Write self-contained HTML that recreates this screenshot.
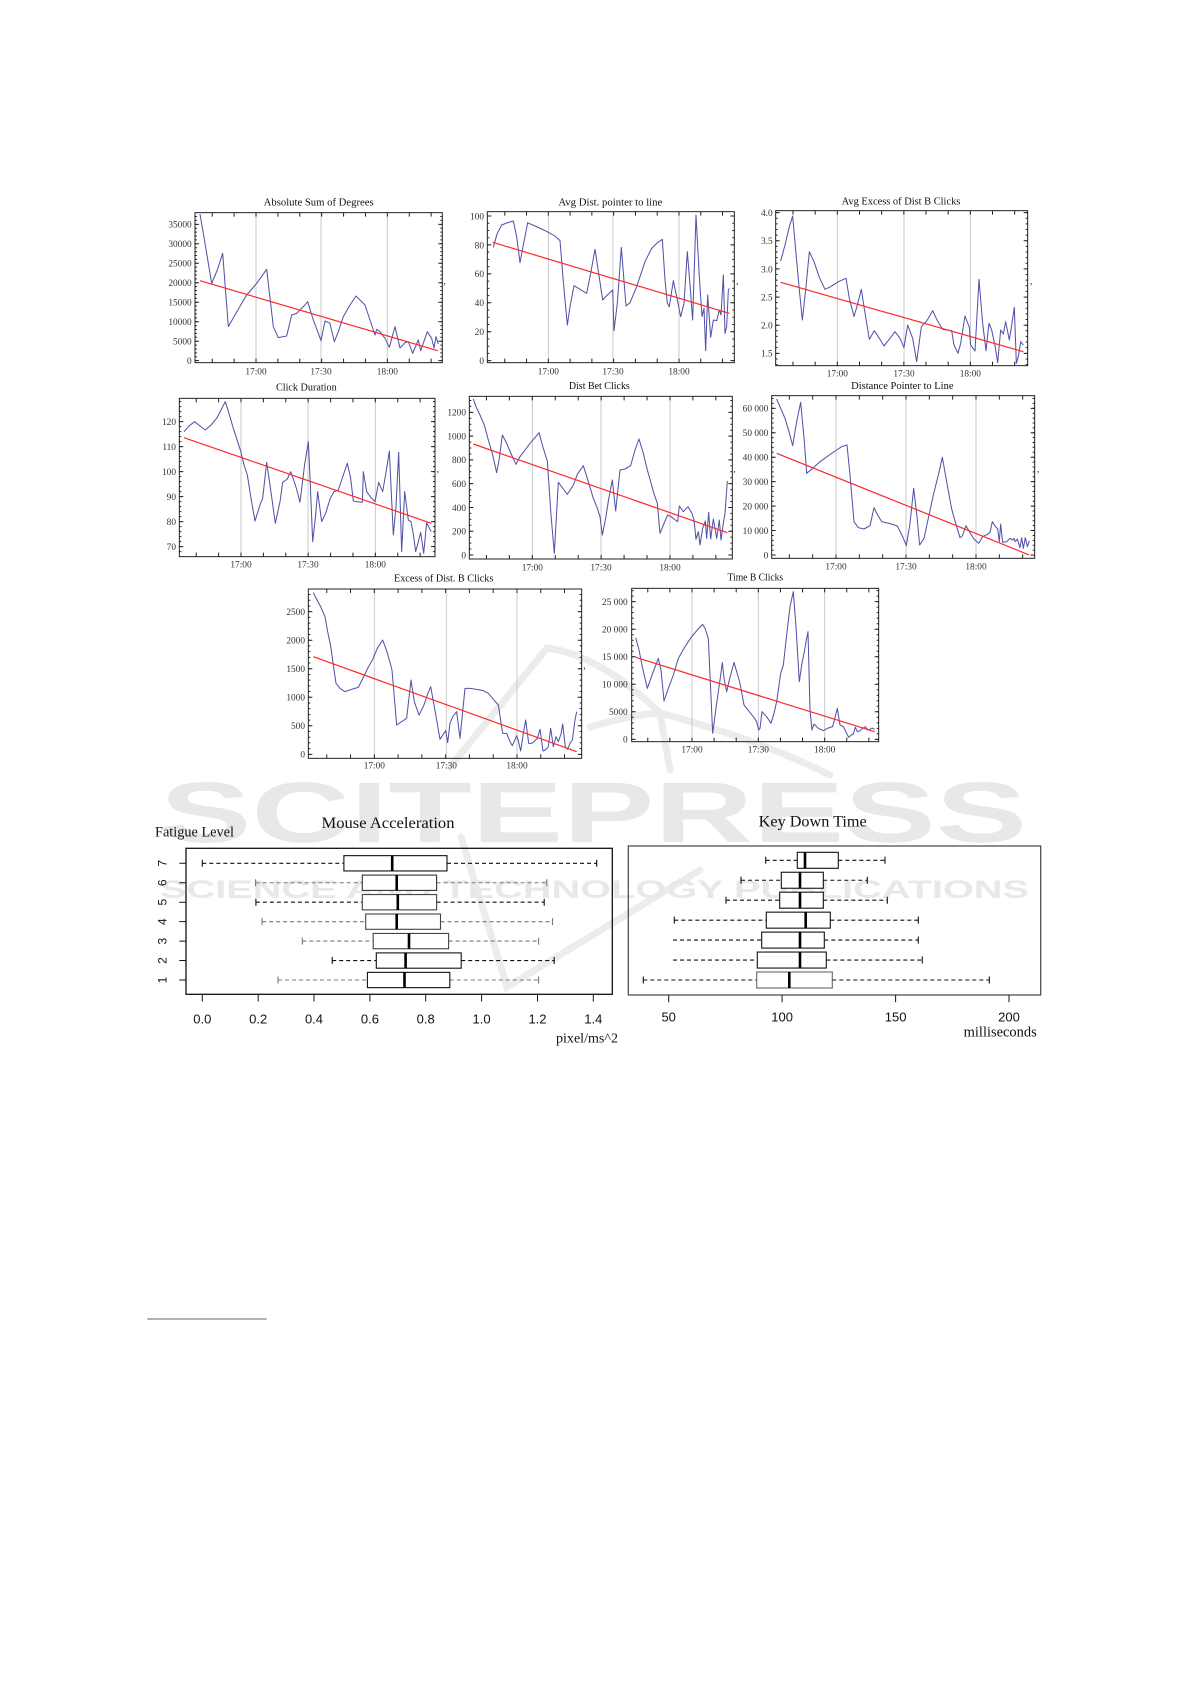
<!DOCTYPE html>
<html>
<head>
<meta charset="utf-8">
<style>
html,body{margin:0;padding:0;background:#fff;overflow:hidden;}
svg{display:block;}
.s{font-family:"Liberation Serif","DejaVu Serif",serif;}
.a{font-family:"Liberation Sans","DejaVu Sans",sans-serif;}
.bl{fill:none;stroke:#5252a8;stroke-width:3.1;stroke-linejoin:round;}
</style>
</head>
<body>
<svg width="1191" height="1684" viewBox="0 0 1191 1684" xmlns="http://www.w3.org/2000/svg">
<rect width="1191" height="1684" fill="#fff"/>

<!-- watermark -->
<g fill="none" stroke="#ececec" stroke-width="7" stroke-linecap="round">
<path d="M450,767 L547,648 Q600,655 660,713 Q760,740 830,775"/>
<path d="M590,727 Q630,715 660,713 L670,770"/>
<path d="M461,837 L507,987 L700,870"/>
</g>
<text class="a" x="160" y="842" font-size="86" font-weight="bold" fill="#e8e8e8" textLength="867" lengthAdjust="spacingAndGlyphs">SCITEPRESS</text>
<text class="a" x="160" y="898" font-size="25" font-weight="bold" fill="#e8e8e8" textLength="869" lengthAdjust="spacingAndGlyphs">SCIENCE AND TECHNOLOGY PUBLICATIONS</text>

<!-- ============ Chart 1 ============ -->
<g transform="translate(140,190) scale(0.3333333)">
<path d="M348,68V518M543,68V518M742,68V518" stroke="#c8c8c8" stroke-width="3" fill="none"/>
<rect x="165" y="68" width="742" height="450" fill="none" stroke="#222" stroke-width="3"/>
<g stroke="#222" fill="none">
<line x1="171" y1="513.5" x2="171" y2="70" stroke-width="12" stroke-dasharray="3 55.43"/>
<line x1="168" y1="513.5" x2="168" y2="70" stroke-width="6" stroke-dasharray="3 8.686"/>
<line x1="901" y1="513.5" x2="901" y2="70" stroke-width="12" stroke-dasharray="3 55.43"/>
<line x1="904" y1="513.5" x2="904" y2="70" stroke-width="6" stroke-dasharray="3 8.686"/>
<line x1="215.2" y1="512" x2="905" y2="512" stroke-width="12" stroke-dasharray="3 62.67"/>
<line x1="215.2" y1="74" x2="905" y2="74" stroke-width="12" stroke-dasharray="3 62.67"/>
</g>
<polyline class="bl" points="180,72 195,160 215,280 232,240 248,190 265,410 285,375 305,340 320,315 350,280 380,238 400,410 415,443 440,438 455,375 470,370 490,350 503,335 520,390 535,430 543,452 555,393 570,400 583,455 595,425 610,380 630,345 648,318 660,330 675,345 690,390 705,435 710,418 720,425 735,445 748,472 765,410 780,474 795,458 805,455 818,490 835,450 842,482 862,425 875,445 882,474 888,440 895,462"/>
<line x1="180" y1="272" x2="893" y2="482" stroke="#ff2828" stroke-width="3.6"/>
<g class="s" font-size="28" fill="#333" text-anchor="end">
<text x="155" y="522">0</text><text x="155" y="463.6">5000</text><text x="155" y="405.1">10000</text><text x="155" y="346.7">15000</text><text x="155" y="288.3">20000</text><text x="155" y="229.9">25000</text><text x="155" y="171.4">30000</text><text x="155" y="113">35000</text>
</g>
<g class="s" font-size="28" fill="#333" text-anchor="middle">
<text x="348" y="553">17:00</text><text x="543" y="553">17:30</text><text x="742" y="553">18:00</text>
</g>
<text class="s" x="536" y="47" font-size="30" fill="#111" text-anchor="middle" textLength="330" lengthAdjust="spacingAndGlyphs">Absolute Sum of Degrees</text>
<text class="s" x="910" y="282" font-size="28" fill="#222">,</text>
</g>

<!-- ============ Chart 2 ============ -->
<g transform="translate(460,190) scale(0.3333333)">
<path d="M265,65V518M459,65V518M657,65V518" stroke="#c8c8c8" stroke-width="3" fill="none"/>
<rect x="82" y="65" width="741" height="453" fill="none" stroke="#222" stroke-width="3"/>
<g stroke="#222" fill="none">
<line x1="88" y1="513.5" x2="88" y2="67" stroke-width="12" stroke-dasharray="3 83.8"/>
<line x1="85" y1="513.5" x2="85" y2="67" stroke-width="6" stroke-dasharray="3 18.7"/>
<line x1="817" y1="513.5" x2="817" y2="67" stroke-width="12" stroke-dasharray="3 83.8"/>
<line x1="820" y1="513.5" x2="820" y2="67" stroke-width="6" stroke-dasharray="3 18.7"/>
<line x1="132.8" y1="512" x2="821" y2="512" stroke-width="12" stroke-dasharray="3 62.33"/>
<line x1="132.8" y1="71" x2="821" y2="71" stroke-width="12" stroke-dasharray="3 62.33"/>
</g>
<polyline class="bl" points="100,172 103,160 112,130 125,105 143,98 160,93 170,140 180,218 190,165 203,98 225,108 245,117 265,127 283,137 300,152 310,275 322,405 330,350 342,287 360,298 380,310 392,250 405,178 416,250 428,330 442,315 458,300 462,422 472,340 484,172 498,348 510,338 530,290 555,215 575,175 590,160 607,148 615,270 622,340 628,350 640,272 650,320 662,380 672,340 682,185 690,285 698,390 708,75 718,260 726,380 732,355 737,482 743,315 752,442 760,390 770,392 778,360 783,375 790,255 795,430 800,410 805,300 808,295"/>
<line x1="98" y1="157" x2="808" y2="370" stroke="#ff2828" stroke-width="3.6"/>
<g class="s" font-size="28" fill="#333" text-anchor="end">
<text x="72" y="522">0</text><text x="72" y="435.2">20</text><text x="72" y="348.4">40</text><text x="72" y="261.6">60</text><text x="72" y="174.8">80</text><text x="72" y="88">100</text>
</g>
<g class="s" font-size="28" fill="#333" text-anchor="middle">
<text x="265" y="553">17:00</text><text x="459" y="553">17:30</text><text x="657" y="553">18:00</text>
</g>
<text class="s" x="451" y="47" font-size="30" fill="#111" text-anchor="middle" textLength="312" lengthAdjust="spacingAndGlyphs">Avg Dist. pointer to line</text>
<text class="s" x="828" y="282" font-size="28" fill="#222">,</text>
</g>

<!-- ============ Chart 3 ============ -->
<g transform="translate(760,190) scale(0.3333333)">
<path d="M232,62V527M432,62V527M631,62V527" stroke="#c8c8c8" stroke-width="3" fill="none"/>
<rect x="47" y="62" width="756" height="465" fill="none" stroke="#222" stroke-width="3"/>
<g stroke="#222" fill="none">
<line x1="53" y1="491.5" x2="53" y2="64" stroke-width="12" stroke-dasharray="3 81.4"/>
<line x1="50" y1="525.2" x2="50" y2="64" stroke-width="6" stroke-dasharray="3 13.88"/>
<line x1="797" y1="491.5" x2="797" y2="64" stroke-width="12" stroke-dasharray="3 81.4"/>
<line x1="800" y1="525.2" x2="800" y2="64" stroke-width="6" stroke-dasharray="3 13.88"/>
<line x1="97.5" y1="521" x2="801" y2="521" stroke-width="12" stroke-dasharray="3 63.5"/>
<line x1="97.5" y1="68" x2="801" y2="68" stroke-width="12" stroke-dasharray="3 63.5"/>
</g>
<polyline class="bl" points="62,213 75,165 88,110 98,78 107,180 118,300 127,390 138,290 148,185 162,215 178,262 195,298 212,290 235,275 258,265 268,325 282,380 292,345 304,298 312,350 328,448 343,422 358,445 372,468 390,445 405,425 420,445 432,473 443,405 458,445 470,515 484,410 500,393 518,362 532,392 548,418 560,420 575,422 582,465 594,490 602,460 615,378 628,412 632,465 645,483 657,268 668,400 678,482 687,400 695,420 705,467 713,518 722,420 730,432 737,395 748,450 757,393 763,352 769,520 775,500 782,455 790,465"/>
<line x1="62" y1="277" x2="790" y2="485" stroke="#ff2828" stroke-width="3.6"/>
<g class="s" font-size="28" fill="#333" text-anchor="end">
<text x="38" y="500">1.5</text><text x="38" y="415.6">2.0</text><text x="38" y="331.2">2.5</text><text x="38" y="246.8">3.0</text><text x="38" y="162.4">3.5</text><text x="38" y="78">4.0</text>
</g>
<g class="s" font-size="28" fill="#333" text-anchor="middle">
<text x="232" y="560">17:00</text><text x="432" y="560">17:30</text><text x="631" y="560">18:00</text>
</g>
<text class="s" x="423" y="44" font-size="30" fill="#111" text-anchor="middle" textLength="356" lengthAdjust="spacingAndGlyphs">Avg Excess of Dist B Clicks</text>
<text class="s" x="810" y="282" font-size="28" fill="#222">,</text>
</g>

<!-- ============ Chart 4 ============ -->
<g transform="translate(150,375) scale(0.3333333)">
<path d="M273,70V545M474,70V545M676,70V545" stroke="#c8c8c8" stroke-width="3" fill="none"/>
<rect x="88" y="70" width="767" height="475" fill="none" stroke="#222" stroke-width="3"/>
<g stroke="#222" fill="none">
<line x1="94" y1="516.5" x2="94" y2="72" stroke-width="12" stroke-dasharray="3 72"/>
<line x1="91" y1="531.5" x2="91" y2="72" stroke-width="6" stroke-dasharray="3 12"/>
<line x1="849" y1="516.5" x2="849" y2="72" stroke-width="12" stroke-dasharray="3 72"/>
<line x1="852" y1="531.5" x2="852" y2="72" stroke-width="6" stroke-dasharray="3 12"/>
<line x1="137.2" y1="539" x2="853" y2="539" stroke-width="12" stroke-dasharray="3 64.17"/>
<line x1="137.2" y1="76" x2="853" y2="76" stroke-width="12" stroke-dasharray="3 64.17"/>
</g>
<polyline class="bl" points="102,170 118,152 134,140 150,153 166,165 183,150 200,130 214,103 226,80 236,112 250,160 263,200 272,228 282,270 292,300 303,370 315,438 330,390 338,370 350,262 360,330 376,445 390,380 398,322 412,312 422,290 432,318 440,343 450,382 464,268 475,200 481,330 488,500 496,430 503,350 515,440 528,412 540,372 552,350 565,345 580,300 592,265 602,310 610,378 620,380 637,382 640,290 650,350 665,370 675,380 686,322 698,350 710,280 718,228 730,480 738,395 746,232 755,530 764,350 775,435 783,440 790,478 797,530 805,500 812,472 821,535 830,443 838,460 844,470"/>
<line x1="102" y1="188" x2="844" y2="445" stroke="#ff2828" stroke-width="3.6"/>
<g class="s" font-size="28" fill="#333" text-anchor="end">
<text x="78" y="525">70</text><text x="78" y="450">80</text><text x="78" y="375">90</text><text x="78" y="300">100</text><text x="78" y="225">110</text><text x="78" y="150">120</text>
</g>
<g class="s" font-size="28" fill="#333" text-anchor="middle">
<text x="273" y="578">17:00</text><text x="474" y="578">17:30</text><text x="676" y="578">18:00</text>
</g>
<text class="s" x="469" y="47" font-size="30" fill="#111" text-anchor="middle" textLength="182" lengthAdjust="spacingAndGlyphs">Click Duration</text>
<text class="s" x="860" y="291" font-size="28" fill="#222">,</text>
</g>

<!-- ============ Chart 5 ============ -->
<g transform="translate(440,375) scale(0.3333333)">
<path d="M277,64V552M483,64V552M690,64V552" stroke="#c8c8c8" stroke-width="3" fill="none"/>
<rect x="88" y="64" width="789" height="488" fill="none" stroke="#222" stroke-width="3"/>
<g stroke="#222" fill="none">
<line x1="94" y1="541.5" x2="94" y2="66" stroke-width="12" stroke-dasharray="3 68.33"/>
<line x1="91" y1="541.5" x2="91" y2="66" stroke-width="6" stroke-dasharray="3 14.83"/>
<line x1="871" y1="541.5" x2="871" y2="66" stroke-width="12" stroke-dasharray="3 68.33"/>
<line x1="874" y1="541.5" x2="874" y2="66" stroke-width="6" stroke-dasharray="3 14.83"/>
<line x1="137.8" y1="546" x2="875" y2="546" stroke-width="12" stroke-dasharray="3 65.83"/>
<line x1="137.8" y1="70" x2="875" y2="70" stroke-width="12" stroke-dasharray="3 65.83"/>
</g>
<polyline class="bl" points="100,72 108,95 120,120 133,150 145,195 158,240 170,293 178,250 187,180 200,205 215,240 228,268 240,245 255,225 270,205 283,190 297,173 310,220 322,258 333,420 343,535 355,322 370,342 382,358 400,330 412,298 430,272 445,320 460,370 472,400 480,425 487,480 497,430 505,378 517,315 527,408 540,285 555,282 572,272 585,225 597,192 610,235 622,285 632,320 640,350 652,385 660,475 670,450 683,420 693,425 706,435 713,440 718,393 730,410 744,395 756,415 762,435 768,493 775,470 780,510 788,460 796,438 800,490 806,412 812,492 820,432 826,465 830,490 838,435 843,495 850,445 855,415 862,318"/>
<line x1="100" y1="207" x2="862" y2="473" stroke="#ff2828" stroke-width="3.6"/>
<g class="s" font-size="28" fill="#333" text-anchor="end">
<text x="78" y="550">0</text><text x="78" y="478.7">200</text><text x="78" y="407.3">400</text><text x="78" y="336">600</text><text x="78" y="264.7">800</text><text x="78" y="193.3">1000</text><text x="78" y="122">1200</text>
</g>
<g class="s" font-size="28" fill="#333" text-anchor="middle">
<text x="277" y="586">17:00</text><text x="483" y="586">17:30</text><text x="690" y="586">18:00</text>
</g>
<text class="s" x="478" y="42" font-size="30" fill="#111" text-anchor="middle" textLength="183" lengthAdjust="spacingAndGlyphs">Dist Bet Clicks</text>
<text class="s" x="880" y="291" font-size="28" fill="#222">,</text>
</g>

<!-- ============ Chart 6 ============ -->
<g transform="translate(740,375) scale(0.3333333)">
<path d="M288,62V550M498,62V550M708,62V550" stroke="#c8c8c8" stroke-width="3" fill="none"/>
<rect x="95" y="62" width="789" height="488" fill="none" stroke="#222" stroke-width="3"/>
<g stroke="#222" fill="none">
<line x1="101" y1="541.5" x2="101" y2="64" stroke-width="12" stroke-dasharray="3 70.33"/>
<line x1="98" y1="541.5" x2="98" y2="64" stroke-width="6" stroke-dasharray="3 11.67"/>
<line x1="878" y1="541.5" x2="878" y2="64" stroke-width="12" stroke-dasharray="3 70.33"/>
<line x1="881" y1="541.5" x2="881" y2="64" stroke-width="6" stroke-dasharray="3 11.67"/>
<line x1="146.5" y1="544" x2="882" y2="544" stroke-width="12" stroke-dasharray="3 67"/>
<line x1="146.5" y1="68" x2="882" y2="68" stroke-width="12" stroke-dasharray="3 67"/>
</g>
<polyline class="bl" points="110,72 122,100 135,130 147,170 158,212 170,140 182,82 193,200 200,295 218,280 240,260 265,242 285,228 305,215 321,210 330,300 342,440 355,458 372,462 390,452 402,398 413,420 425,440 450,446 472,453 488,485 499,512 510,445 521,340 531,425 539,510 552,490 566,425 580,360 595,300 607,247 620,320 635,402 645,438 660,488 667,483 678,452 688,470 702,492 716,505 728,485 742,478 750,472 757,440 765,453 773,462 778,500 782,447 788,502 800,500 810,490 818,495 822,490 826,500 832,492 840,518 845,488 850,520 856,488 862,515 868,497"/>
<line x1="110" y1="235" x2="868" y2="540" stroke="#ff2828" stroke-width="3.6"/>
<g class="s" font-size="28" fill="#333" text-anchor="end">
<text x="85" y="550">0</text><text x="85" y="476.7">10 000</text><text x="85" y="403.3">20 000</text><text x="85" y="330">30 000</text><text x="85" y="256.7">40 000</text><text x="85" y="183.3">50 000</text><text x="85" y="110">60 000</text>
</g>
<g class="s" font-size="28" fill="#333" text-anchor="middle">
<text x="288" y="584">17:00</text><text x="498" y="584">17:30</text><text x="708" y="584">18:00</text>
</g>
<text class="s" x="487" y="42" font-size="30" fill="#111" text-anchor="middle" textLength="307" lengthAdjust="spacingAndGlyphs">Distance Pointer to Line</text>
<text class="s" x="891" y="291" font-size="28" fill="#222">,</text>
</g>

<!-- ============ Chart 7 ============ -->
<g transform="translate(280,570) scale(0.3333333)">
<path d="M283,57V565M499,57V565M711,57V565" stroke="#c8c8c8" stroke-width="3" fill="none"/>
<rect x="85" y="57" width="820" height="508" fill="none" stroke="#222" stroke-width="3"/>
<g stroke="#222" fill="none">
<line x1="91" y1="554.5" x2="91" y2="59" stroke-width="12" stroke-dasharray="3 82.6"/>
<line x1="88" y1="554.5" x2="88" y2="59" stroke-width="6" stroke-dasharray="3 14.12"/>
<line x1="899" y1="554.5" x2="899" y2="59" stroke-width="12" stroke-dasharray="3 82.6"/>
<line x1="902" y1="554.5" x2="902" y2="59" stroke-width="6" stroke-dasharray="3 14.12"/>
<line x1="138.8" y1="559" x2="903" y2="559" stroke-width="12" stroke-dasharray="3 68.33"/>
<line x1="138.8" y1="63" x2="903" y2="63" stroke-width="12" stroke-dasharray="3 68.33"/>
</g>
<polyline class="bl" points="100,68 110,88 122,110 135,140 142,180 152,228 160,285 168,340 180,355 195,365 218,357 235,352 250,322 263,295 278,268 292,235 308,210 320,242 328,270 336,300 350,465 365,455 380,445 393,330 403,395 417,435 432,405 442,375 452,350 462,405 480,508 497,482 503,518 510,460 518,440 530,425 540,505 555,355 570,355 590,358 610,362 625,370 640,388 655,405 668,490 680,490 690,515 697,527 710,497 715,512 722,543 730,490 737,450 746,520 755,520 762,515 772,505 780,478 789,543 796,540 805,530 812,475 820,530 828,500 835,515 843,492 848,462 856,530 863,538 870,520 877,510 885,450 890,425"/>
<line x1="100" y1="260" x2="890" y2="545" stroke="#ff2828" stroke-width="3.6"/>
<g class="s" font-size="28" fill="#333" text-anchor="end">
<text x="75" y="563">0</text><text x="75" y="477.4">500</text><text x="75" y="391.8">1000</text><text x="75" y="306.2">1500</text><text x="75" y="220.6">2000</text><text x="75" y="135">2500</text>
</g>
<g class="s" font-size="28" fill="#333" text-anchor="middle">
<text x="283" y="595">17:00</text><text x="499" y="595">17:30</text><text x="711" y="595">18:00</text>
</g>
<text class="s" x="491" y="35" font-size="30" fill="#111" text-anchor="middle" textLength="298" lengthAdjust="spacingAndGlyphs">Excess of Dist. B Clicks</text>
<text class="s" x="910" y="296" font-size="28" fill="#222">,</text>
</g>

<!-- ============ Chart 8 ============ -->
<g transform="translate(590,570) scale(0.3333333)">
<path d="M306,55V515M505,55V515M704,55V515" stroke="#c8c8c8" stroke-width="3" fill="none"/>
<rect x="125" y="55" width="741" height="460" fill="none" stroke="#222" stroke-width="3"/>
<g stroke="#222" fill="none">
<line x1="131" y1="509.5" x2="131" y2="57" stroke-width="12" stroke-dasharray="3 79.6"/>
<line x1="128" y1="509.5" x2="128" y2="57" stroke-width="6" stroke-dasharray="3 13.52"/>
<line x1="860" y1="509.5" x2="860" y2="57" stroke-width="12" stroke-dasharray="3 79.6"/>
<line x1="863" y1="509.5" x2="863" y2="57" stroke-width="6" stroke-dasharray="3 13.52"/>
<line x1="171.8" y1="509" x2="864" y2="509" stroke-width="12" stroke-dasharray="3 63.33"/>
<line x1="171.8" y1="61" x2="864" y2="61" stroke-width="12" stroke-dasharray="3 63.33"/>
</g>
<polyline class="bl" points="137,203 147,240 158,295 172,355 188,310 205,265 213,300 222,393 235,355 250,315 265,265 285,230 305,200 322,180 338,163 345,175 355,205 368,490 380,400 390,330 397,278 402,325 410,365 418,330 432,277 440,305 450,340 462,405 478,425 490,440 500,455 506,480 510,475 516,425 530,440 543,460 552,430 560,395 572,310 580,285 590,195 600,110 610,65 618,170 628,335 635,285 642,250 650,205 654,185 660,420 666,480 672,462 685,475 700,482 712,475 728,470 742,415 750,465 760,470 770,490 776,502 784,495 790,492 796,472 802,485 810,482 818,475 826,470 834,480 840,478 846,474 854,478"/>
<line x1="137" y1="262" x2="854" y2="485" stroke="#ff2828" stroke-width="3.6"/>
<g class="s" font-size="28" fill="#333" text-anchor="end">
<text x="113" y="518">0</text><text x="113" y="435.4">5000</text><text x="113" y="352.8">10 000</text><text x="113" y="270.2">15 000</text><text x="113" y="187.6">20 000</text><text x="113" y="105">25 000</text>
</g>
<g class="s" font-size="28" fill="#333" text-anchor="middle">
<text x="306" y="548">17:00</text><text x="505" y="548">17:30</text><text x="704" y="548">18:00</text>
</g>
<text class="s" x="496" y="31" font-size="30" fill="#111" text-anchor="middle" textLength="167" lengthAdjust="spacingAndGlyphs">Time B Clicks</text>
</g>

<!-- ============ Boxplot 1: Mouse Acceleration ============ -->
<text class="s" x="388" y="828" font-size="15.5" fill="#111" text-anchor="middle" textLength="133" lengthAdjust="spacingAndGlyphs">Mouse Acceleration</text>
<text class="s" x="155" y="836.7" font-size="14.3" fill="#111" textLength="79" lengthAdjust="spacingAndGlyphs">Fatigue Level</text>
<rect x="186" y="848.3" width="426.3" height="146" fill="none" stroke="#111" stroke-width="1.3"/>
<g fill="none" stroke-width="1.1">
<g stroke="#111"><path d="M202.3,863.3H343.9M447,863.3H596.7" stroke-dasharray="4 3"/><path d="M202.3,859.8v7M596.7,859.8v7"/><rect x="343.9" y="855.65" width="103.1" height="15.3" fill="#fff"/></g>
<g stroke="#777"><path d="M255.6,882.75H362.3M436.6,882.75H546.7" stroke-dasharray="4 3"/><path d="M255.6,879.25v7M546.7,879.25v7"/></g><rect x="362.3" y="875.1" width="74.3" height="15.3" fill="#fff" stroke="#333"/>
<g stroke="#111"><path d="M255.9,902.2H362.3M436.6,902.2H544.2" stroke-dasharray="4 3"/><path d="M255.9,898.7v7M544.2,898.7v7"/></g><rect x="362.3" y="894.55" width="74.3" height="15.3" fill="#fff" stroke="#444"/>
<g stroke="#777"><path d="M262.1,921.65H365.7M440.5,921.65H552.5" stroke-dasharray="4 3"/><path d="M262.1,918.15v7M552.5,918.15v7"/></g><rect x="365.7" y="914" width="74.8" height="15.3" fill="#fff" stroke="#444"/>
<g stroke="#777"><path d="M302.3,941.1H373.2M448.6,941.1H538.6" stroke-dasharray="4 3"/><path d="M302.3,937.6v7M538.6,937.6v7"/></g><rect x="373.2" y="933.45" width="75.4" height="15.3" fill="#fff" stroke="#444"/>
<g stroke="#111"><path d="M332.2,960.55H376.3M461.2,960.55H554.2" stroke-dasharray="4 3"/><path d="M332.2,957.05v7M554.2,957.05v7"/><rect x="376.3" y="952.9" width="84.9" height="15.3" fill="#fff"/></g>
<g stroke="#777"><path d="M278,980H367.4M449.8,980H538.6" stroke-dasharray="4 3"/><path d="M278,976.5v7M538.6,976.5v7"/></g><rect x="367.4" y="972.35" width="82.4" height="15.3" fill="#fff" stroke="#111"/>
</g>
<g stroke="#000" stroke-width="2.6">
<path d="M392.2,855.65v15.3M396.7,875.1v15.3M397.8,894.55v15.3M396.7,914v15.3M409,933.45v15.3M405.6,952.9v15.3M404.5,972.35v15.3"/>
</g>
<g stroke="#111" stroke-width="1">
<path d="M179.3,863.3H186M179.3,882.75H186M179.3,902.2H186M179.3,921.65H186M179.3,941.1H186M179.3,960.55H186M179.3,980H186"/>
<path d="M202.3,994.3v7.2M258.2,994.3v7.2M314,994.3v7.2M369.9,994.3v7.2M425.7,994.3v7.2M481.6,994.3v7.2M537.5,994.3v7.2M593.3,994.3v7.2"/>
</g>
<g class="a" font-size="12" fill="#111" text-anchor="middle">
<text transform="translate(166.7,863.3) rotate(-90)">7</text>
<text transform="translate(166.7,882.75) rotate(-90)">6</text>
<text transform="translate(166.7,902.2) rotate(-90)">5</text>
<text transform="translate(166.7,921.65) rotate(-90)">4</text>
<text transform="translate(166.7,941.1) rotate(-90)">3</text>
<text transform="translate(166.7,960.55) rotate(-90)">2</text>
<text transform="translate(166.7,980) rotate(-90)">1</text>
</g>
<g class="a" font-size="13" fill="#111" text-anchor="middle">
<text x="202.3" y="1023.3">0.0</text><text x="258.2" y="1023.3">0.2</text><text x="314" y="1023.3">0.4</text><text x="369.9" y="1023.3">0.6</text><text x="425.7" y="1023.3">0.8</text><text x="481.6" y="1023.3">1.0</text><text x="537.5" y="1023.3">1.2</text><text x="593.3" y="1023.3">1.4</text>
</g>
<text class="s" x="618" y="1042.7" font-size="14" fill="#111" text-anchor="end" textLength="62" lengthAdjust="spacingAndGlyphs">pixel/ms^2</text>

<!-- ============ Boxplot 2: Key Down Time ============ -->
<text class="s" x="812.7" y="826.7" font-size="16" fill="#111" text-anchor="middle" textLength="108" lengthAdjust="spacingAndGlyphs">Key Down Time</text>
<rect x="628.3" y="846" width="412.4" height="149" fill="none" stroke="#444" stroke-width="1.2"/>
<g fill="none" stroke="#111" stroke-width="1.1">
<path d="M765.7,860.3H797.3M838.3,860.3H885 M741,880.25H781.3M823.3,880.25H867.3 M726,900.2H779.7M823.3,900.2H887.3 M674.3,920.15H766.3M830.3,920.15H918.3 M673,940.1H761.7M824.3,940.1H918.3 M673,960.05H757.3M826.3,960.05H922.3 M643.3,980H756.7M832.3,980H989.3" stroke-dasharray="4 3"/>
<path d="M765.7,856.8v7M885,856.8v7 M741,876.75v7M867.3,876.75v7 M726,896.7v7M887.3,896.7v7 M674.3,916.65v7M918.3,916.65v7 M918.3,936.6v7 M922.3,956.55v7 M643.3,976.5v7M989.3,976.5v7"/>
<rect x="797.3" y="852.3" width="41" height="16" fill="#fff"/>
<rect x="781.3" y="872.25" width="42" height="16" fill="#fff"/>
<rect x="779.7" y="892.2" width="43.6" height="16" fill="#fff"/>
<rect x="766.3" y="912.15" width="64" height="16" fill="#fff"/>
<rect x="761.7" y="932.1" width="62.6" height="16" fill="#fff"/>
<rect x="757.3" y="952.05" width="69" height="16" fill="#fff"/>
<rect x="756.7" y="972" width="75.6" height="16" fill="#fff" stroke="#666"/>
</g>
<g stroke="#000" stroke-width="2.6">
<path d="M805,852.3v16M800,872.25v16M800,892.2v16M805.7,912.15v16M800,932.1v16M800,952.05v16M789.3,972v16"/>
</g>
<g stroke="#111" stroke-width="1">
<path d="M668.7,995v7.2M782.1,995v7.2M895.6,995v7.2M1009,995v7.2"/>
</g>
<g class="a" font-size="13" fill="#111" text-anchor="middle">
<text x="668.7" y="1021.7">50</text><text x="782.1" y="1021.7">100</text><text x="895.6" y="1021.7">150</text><text x="1009" y="1021.7">200</text>
</g>
<text class="s" x="1036.7" y="1036.5" font-size="14.4" fill="#111" text-anchor="end" textLength="73" lengthAdjust="spacingAndGlyphs">milliseconds</text>

<!-- footnote rule -->
<line x1="147.3" y1="1319" x2="266.7" y2="1319" stroke="#999" stroke-width="1.4"/>
</svg>
</body>
</html>
